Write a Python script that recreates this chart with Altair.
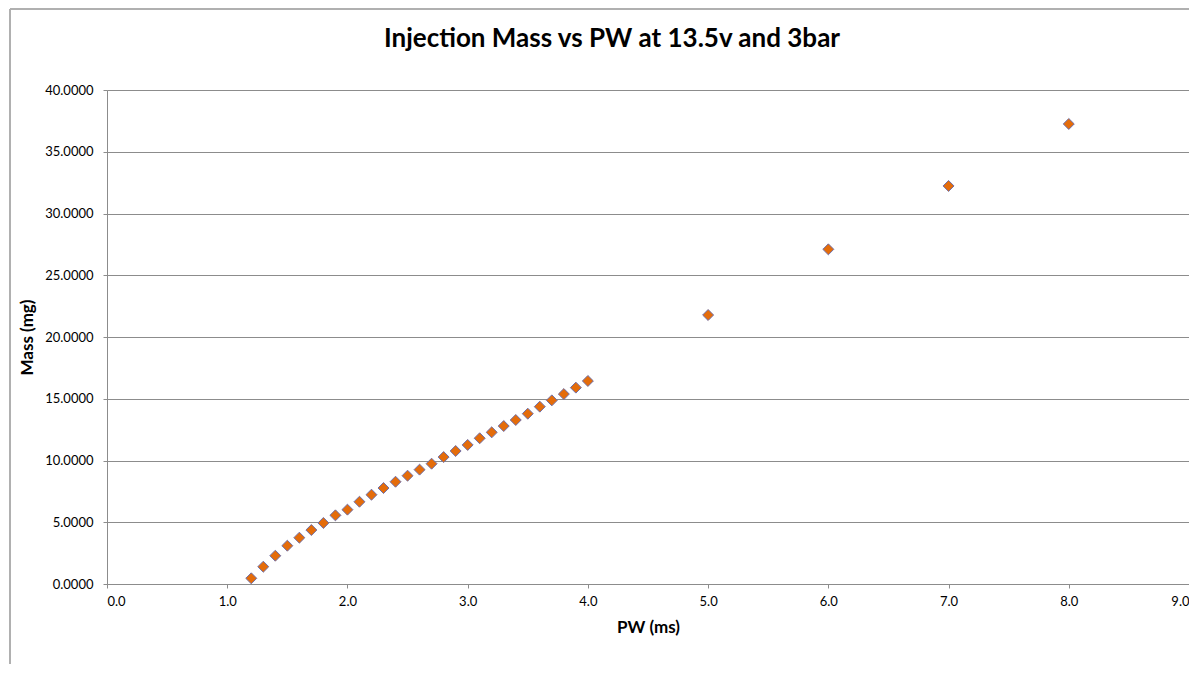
import altair as alt
import pandas as pd

pw = [1.2, 1.3, 1.4, 1.5, 1.6, 1.7, 1.8, 1.9, 2.0, 2.1, 2.2, 2.3, 2.4, 2.5,
      2.6, 2.7, 2.8, 2.9, 3.0, 3.1, 3.2, 3.3, 3.4, 3.5, 3.6, 3.7, 3.8, 3.9,
      4.0, 5.0, 6.0, 7.0, 8.0]
mass = [0.46, 1.40, 2.29, 3.10, 3.75, 4.37, 4.94, 5.56, 6.02, 6.66, 7.23,
        7.77, 8.28, 8.77, 9.26, 9.74, 10.28, 10.77, 11.26, 11.80, 12.28,
        12.79, 13.28, 13.79, 14.36, 14.87, 15.38, 15.90, 16.44, 21.78,
        27.10, 32.23, 37.25]

df = pd.DataFrame({"PW": pw, "Mass": mass})

FONT = "Lato"
GRID = "#8C8C8C"

points = alt.Chart(df).mark_point(
    shape="diamond", filled=True, fill="#E46C0A", stroke="#6F6FA8",
    strokeWidth=1, size=120, opacity=1
).encode(
    x=alt.X("PW:Q", title="PW (ms)",
            scale=alt.Scale(domain=[0, 9], nice=False, zero=True),
            axis=alt.Axis(values=[0, 1, 2, 3, 4, 5, 6, 7, 8, 9], format=".1f",
                          grid=False, domainColor=GRID, tickColor=GRID,
                          tickSize=4, labelPadding=7, labelFontSize=13,
                          labelColor="#000000", labelFont=FONT,
                          titleFont=FONT, titleFontSize=17, titleFontWeight="bold",
                          titleColor="#000000", titlePadding=11)),
    y=alt.Y("Mass:Q", title="Mass (mg)",
            scale=alt.Scale(domain=[0, 40], nice=False),
            axis=alt.Axis(values=[0, 5, 10, 15, 20, 25, 30, 35, 40], format=".4f",
                          grid=True, gridColor=GRID, gridWidth=1,
                          domainColor=GRID, tickColor=GRID, tickSize=4,
                          labelPadding=10, labelFontSize=13, labelColor="#000000",
                          labelFont=FONT, titleFont=FONT, titleFontSize=17,
                          titleFontWeight="bold", titleColor="#000000",
                          titlePadding=8)),
)

border_left = alt.Chart(df).mark_rule(color="#B0B0B0", strokeWidth=1.5).encode(
    x=alt.value(-97), y=alt.value(-81), y2=alt.value(700)
)
border_top = alt.Chart(df).mark_rule(color="#B0B0B0", strokeWidth=1.5).encode(
    x=alt.value(-97), x2=alt.value(1200), y=alt.value(-81)
)

chart = alt.layer(border_left, border_top, points).properties(
    width=1082, height=494,
    title=alt.TitleParams("Injection Mass vs PW at 13.5v and 3bar",
                          font=FONT, fontSize=26, fontWeight="bold",
                          color="#000000", anchor="middle", offset=-44, dx=-36),
    autosize=alt.AutoSizeParams(type="none"),
    padding={"left": 99, "top": 82, "right": 0, "bottom": 80},
).configure_view(stroke=None).configure(background="white")

chart.save("out.html", embed_options={"renderer": "svg", "actions": False})
